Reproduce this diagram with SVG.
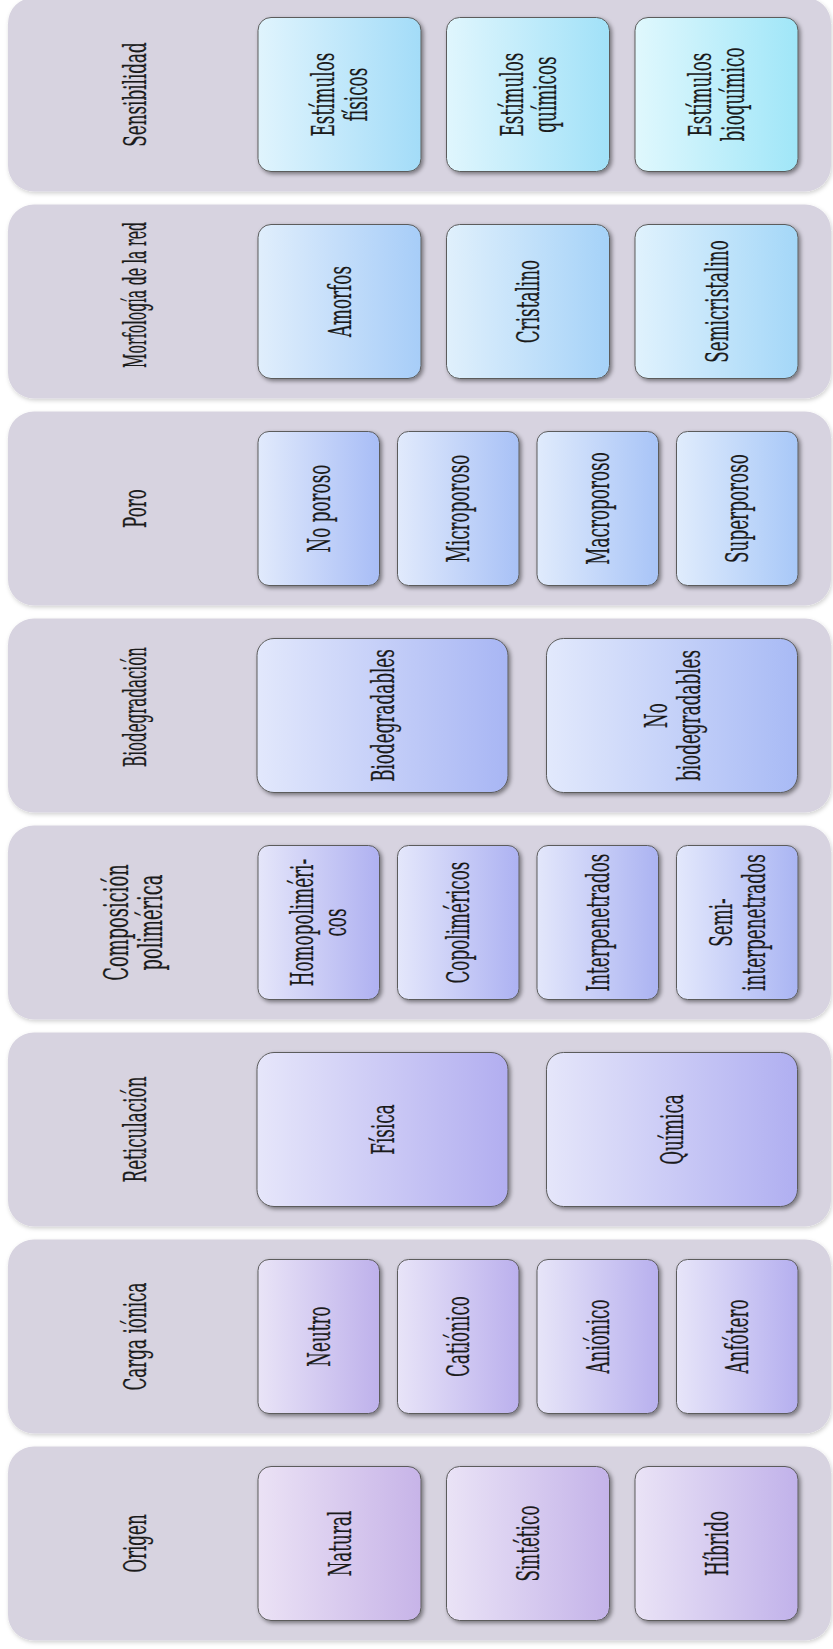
<svg xmlns="http://www.w3.org/2000/svg" width="833" height="1649" viewBox="0 0 833 1649">
<style>
.bg{fill:#ffffff}
.panel{fill:#d7d3e0;filter:url(#ps)}
.node{stroke:#5c5c5c;stroke-width:1;filter:url(#ns)}
.t{font-family:"DejaVu Serif","Liberation Serif",serif;font-size:32px;fill:#1a1a1a;stroke:#1a1a1a;stroke-width:0.25;text-anchor:middle}
</style>
<defs>
<filter id="ps" x="-5%" y="-10%" width="110%" height="125%"><feDropShadow dx="1" dy="2" stdDeviation="2" flood-color="#000" flood-opacity="0.18"/></filter>
<filter id="ns" x="-10%" y="-10%" width="125%" height="125%"><feDropShadow dx="2" dy="2" stdDeviation="2" flood-color="#000" flood-opacity="0.45"/></filter>
<linearGradient id="g0"><stop offset="0" stop-color="#ebe2f5"/><stop offset="1" stop-color="#c7b4e8"/></linearGradient>
<linearGradient id="g1"><stop offset="0" stop-color="#eae3f6"/><stop offset="1" stop-color="#c4b3e9"/></linearGradient>
<linearGradient id="g2"><stop offset="0" stop-color="#eae3f6"/><stop offset="1" stop-color="#c1b2ea"/></linearGradient>
<linearGradient id="g3"><stop offset="0" stop-color="#e9e4f7"/><stop offset="1" stop-color="#beb1eb"/></linearGradient>
<linearGradient id="g4"><stop offset="0" stop-color="#e8e4f8"/><stop offset="1" stop-color="#bbb0ed"/></linearGradient>
<linearGradient id="g5"><stop offset="0" stop-color="#e7e5f8"/><stop offset="1" stop-color="#b8b0ee"/></linearGradient>
<linearGradient id="g6"><stop offset="0" stop-color="#e7e5f9"/><stop offset="1" stop-color="#b5afef"/></linearGradient>
<linearGradient id="g7"><stop offset="0" stop-color="#e6e6fa"/><stop offset="1" stop-color="#b2aef0"/></linearGradient>
<linearGradient id="g8"><stop offset="0" stop-color="#e5e6fa"/><stop offset="1" stop-color="#b0aff1"/></linearGradient>
<linearGradient id="g9"><stop offset="0" stop-color="#e5e6fa"/><stop offset="1" stop-color="#afb1f1"/></linearGradient>
<linearGradient id="g10"><stop offset="0" stop-color="#e4e7fb"/><stop offset="1" stop-color="#adb2f2"/></linearGradient>
<linearGradient id="g11"><stop offset="0" stop-color="#e3e7fb"/><stop offset="1" stop-color="#abb3f2"/></linearGradient>
<linearGradient id="g12"><stop offset="0" stop-color="#e3e8fc"/><stop offset="1" stop-color="#aab5f3"/></linearGradient>
<linearGradient id="g13"><stop offset="0" stop-color="#e2e8fc"/><stop offset="1" stop-color="#a8b6f4"/></linearGradient>
<linearGradient id="g14"><stop offset="0" stop-color="#e2e9fc"/><stop offset="1" stop-color="#a8baf5"/></linearGradient>
<linearGradient id="g15"><stop offset="0" stop-color="#e1eafc"/><stop offset="1" stop-color="#a8bdf6"/></linearGradient>
<linearGradient id="g16"><stop offset="0" stop-color="#e1eafc"/><stop offset="1" stop-color="#a8c1f6"/></linearGradient>
<linearGradient id="g17"><stop offset="0" stop-color="#e0ebfc"/><stop offset="1" stop-color="#a8c4f7"/></linearGradient>
<linearGradient id="g18"><stop offset="0" stop-color="#e0ecfc"/><stop offset="1" stop-color="#a8c8f8"/></linearGradient>
<linearGradient id="g19"><stop offset="0" stop-color="#e0eefc"/><stop offset="1" stop-color="#a7cdf8"/></linearGradient>
<linearGradient id="g20"><stop offset="0" stop-color="#e0f0fc"/><stop offset="1" stop-color="#a5d2f8"/></linearGradient>
<linearGradient id="g21"><stop offset="0" stop-color="#e0f2fd"/><stop offset="1" stop-color="#a4d7f8"/></linearGradient>
<linearGradient id="g22"><stop offset="0" stop-color="#e0f4fd"/><stop offset="1" stop-color="#a3dcf8"/></linearGradient>
<linearGradient id="g23"><stop offset="0" stop-color="#e0f6fd"/><stop offset="1" stop-color="#a1e1f8"/></linearGradient>
<linearGradient id="g24"><stop offset="0" stop-color="#e0f8fd"/><stop offset="1" stop-color="#a0e6f8"/></linearGradient>
</defs>
<rect class="bg" x="0" y="0" width="833" height="1649"/>

<g id="sensibilidad">
<rect class="panel" x="8" y="-2.5" width="823" height="194" rx="26"/>
<text class="t" transform="translate(135,94.5) rotate(-90) scale(0.525,1)" y="11">Sensibilidad</text>
<g id="estimulos-fisicos"><rect class="node" x="258" y="17.5" width="163" height="154" rx="13" fill="url(#g22)"/>
<text class="t" transform="translate(339.5,94.5) rotate(-90) scale(0.525,1)"><tspan x="0" y="-5.5">Estímulos</tspan><tspan x="0" y="27.5">físicos</tspan></text></g>
<g id="estimulos-quimicos"><rect class="node" x="446.5" y="17.5" width="163" height="154" rx="13" fill="url(#g23)"/>
<text class="t" transform="translate(528,94.5) rotate(-90) scale(0.525,1)"><tspan x="0" y="-5.5">Estímulos</tspan><tspan x="0" y="27.5">químicos</tspan></text></g>
<g id="estimulos-bioquimico"><rect class="node" x="635" y="17.5" width="163" height="154" rx="13" fill="url(#g24)"/>
<text class="t" transform="translate(716.5,94.5) rotate(-90) scale(0.525,1)"><tspan x="0" y="-5.5">Estímulos</tspan><tspan x="0" y="27.5">bioquímico</tspan></text></g>
</g>

<g id="morfologia">
<rect class="panel" x="8" y="204.5" width="823" height="194" rx="26"/>
<text class="t" transform="translate(135,295) rotate(-90) scale(0.44,1)" y="11">Morfología de la red</text>
<g id="amorfos"><rect class="node" x="258" y="224.5" width="163" height="154" rx="13" fill="url(#g19)"/>
<text class="t" transform="translate(339.5,301.5) rotate(-90) scale(0.525,1)" y="11">Amorfos</text></g>
<g id="cristalino"><rect class="node" x="446.5" y="224.5" width="163" height="154" rx="13" fill="url(#g20)"/>
<text class="t" transform="translate(528,301.5) rotate(-90) scale(0.525,1)" y="11">Cristalino</text></g>
<g id="semicristalino"><rect class="node" x="635" y="224.5" width="163" height="154" rx="13" fill="url(#g21)"/>
<text class="t" transform="translate(716.5,301.5) rotate(-90) scale(0.525,1)" y="11">Semicristalino</text></g>
</g>

<g id="poro">
<rect class="panel" x="8" y="411.5" width="823" height="194" rx="26"/>
<text class="t" transform="translate(135,508.5) rotate(-90) scale(0.525,1)" y="11">Poro</text>
<g id="no-poroso"><rect class="node" x="258" y="431.5" width="121.5" height="154" rx="11" fill="url(#g15)"/>
<text class="t" transform="translate(318.75,508.5) rotate(-90) scale(0.525,1)" y="11">No poroso</text></g>
<g id="microporoso"><rect class="node" x="397.5" y="431.5" width="121.5" height="154" rx="11" fill="url(#g16)"/>
<text class="t" transform="translate(458.25,508.5) rotate(-90) scale(0.525,1)" y="11">Microporoso</text></g>
<g id="macroporoso"><rect class="node" x="537" y="431.5" width="121.5" height="154" rx="11" fill="url(#g17)"/>
<text class="t" transform="translate(597.75,508.5) rotate(-90) scale(0.525,1)" y="11">Macroporoso</text></g>
<g id="superporoso"><rect class="node" x="676.5" y="431.5" width="121.5" height="154" rx="11" fill="url(#g18)"/>
<text class="t" transform="translate(737.25,508.5) rotate(-90) scale(0.525,1)" y="11">Superporoso</text></g>
</g>

<g id="biodegradacion">
<rect class="panel" x="8" y="618.5" width="823" height="194" rx="26"/>
<text class="t" transform="translate(135,707) rotate(-90) scale(0.47,1)" y="11">Biodegradación</text>
<g id="biodegradables"><rect class="node" x="257" y="638.5" width="251" height="154" rx="17" fill="url(#g13)"/>
<text class="t" transform="translate(382.5,715.5) rotate(-90) scale(0.525,1)" y="11">Biodegradables</text></g>
<g id="no-biodegradables"><rect class="node" x="546.5" y="638.5" width="251" height="154" rx="17" fill="url(#g14)"/>
<text class="t" transform="translate(672,715.5) rotate(-90) scale(0.525,1)"><tspan x="0" y="-5.5">No</tspan><tspan x="0" y="27.5">biodegradables</tspan></text></g>
</g>

<g id="composicion">
<rect class="panel" x="8" y="825.5" width="823" height="194" rx="26"/>
<text class="t" transform="translate(133,922.5) rotate(-90) scale(0.525,1)" style="font-size:34px"><tspan x="0" y="-5.5">Composición</tspan><tspan x="0" y="28.5">polimérica</tspan></text>
<g id="homopolimericos"><rect class="node" x="258" y="845.5" width="121.5" height="154" rx="11" fill="url(#g9)"/>
<text class="t" transform="translate(318.75,922.5) rotate(-90) scale(0.525,1)"><tspan x="0" y="-5.5">Homopoliméri-</tspan><tspan x="0" y="27.5">cos</tspan></text></g>
<g id="copolimericos"><rect class="node" x="397.5" y="845.5" width="121.5" height="154" rx="11" fill="url(#g10)"/>
<text class="t" transform="translate(458.25,922.5) rotate(-90) scale(0.525,1)" y="11">Copoliméricos</text></g>
<g id="interpenetrados"><rect class="node" x="537" y="845.5" width="121.5" height="154" rx="11" fill="url(#g11)"/>
<text class="t" transform="translate(597.75,922.5) rotate(-90) scale(0.525,1)" y="11">Interpenetrados</text></g>
<g id="semi-interpenetrados"><rect class="node" x="676.5" y="845.5" width="121.5" height="154" rx="11" fill="url(#g12)"/>
<text class="t" transform="translate(737.25,922.5) rotate(-90) scale(0.525,1)"><tspan x="0" y="-5.5">Semi-</tspan><tspan x="0" y="27.5">interpenetrados</tspan></text></g>
</g>

<g id="reticulacion">
<rect class="panel" x="8" y="1032.5" width="823" height="194" rx="26"/>
<text class="t" transform="translate(135,1129.5) rotate(-90) scale(0.525,1)" y="11">Reticulación</text>
<g id="fisica"><rect class="node" x="257" y="1052.5" width="251" height="154" rx="17" fill="url(#g7)"/>
<text class="t" transform="translate(382.5,1129.5) rotate(-90) scale(0.525,1)" y="11">Física</text></g>
<g id="quimica"><rect class="node" x="546.5" y="1052.5" width="251" height="154" rx="17" fill="url(#g8)"/>
<text class="t" transform="translate(672,1129.5) rotate(-90) scale(0.525,1)" y="11">Química</text></g>
</g>

<g id="carga-ionica">
<rect class="panel" x="8" y="1239.5" width="823" height="194" rx="26"/>
<text class="t" transform="translate(135,1336.5) rotate(-90) scale(0.525,1)" y="11">Carga iónica</text>
<g id="neutro"><rect class="node" x="258" y="1259.5" width="121.5" height="154" rx="11" fill="url(#g3)"/>
<text class="t" transform="translate(318.75,1336.5) rotate(-90) scale(0.525,1)" y="11">Neutro</text></g>
<g id="cationico"><rect class="node" x="397.5" y="1259.5" width="121.5" height="154" rx="11" fill="url(#g4)"/>
<text class="t" transform="translate(458.25,1336.5) rotate(-90) scale(0.525,1)" y="11">Catiónico</text></g>
<g id="anionico"><rect class="node" x="537" y="1259.5" width="121.5" height="154" rx="11" fill="url(#g5)"/>
<text class="t" transform="translate(597.75,1336.5) rotate(-90) scale(0.525,1)" y="11">Aniónico</text></g>
<g id="anfotero"><rect class="node" x="676.5" y="1259.5" width="121.5" height="154" rx="11" fill="url(#g6)"/>
<text class="t" transform="translate(737.25,1336.5) rotate(-90) scale(0.525,1)" y="11">Anfótero</text></g>
</g>

<g id="origen">
<rect class="panel" x="8" y="1446.5" width="823" height="194" rx="26"/>
<text class="t" transform="translate(135,1543.5) rotate(-90) scale(0.525,1)" y="11">Origen</text>
<g id="natural"><rect class="node" x="258" y="1466.5" width="163" height="154" rx="13" fill="url(#g0)"/>
<text class="t" transform="translate(339.5,1543.5) rotate(-90) scale(0.525,1)" y="11">Natural</text></g>
<g id="sintetico"><rect class="node" x="446.5" y="1466.5" width="163" height="154" rx="13" fill="url(#g1)"/>
<text class="t" transform="translate(528,1543.5) rotate(-90) scale(0.525,1)" y="11">Sintético</text></g>
<g id="hibrido"><rect class="node" x="635" y="1466.5" width="163" height="154" rx="13" fill="url(#g2)"/>
<text class="t" transform="translate(716.5,1543.5) rotate(-90) scale(0.525,1)" y="11">Híbrido</text></g>
</g>

<g id="connectors"></g>
</svg>
